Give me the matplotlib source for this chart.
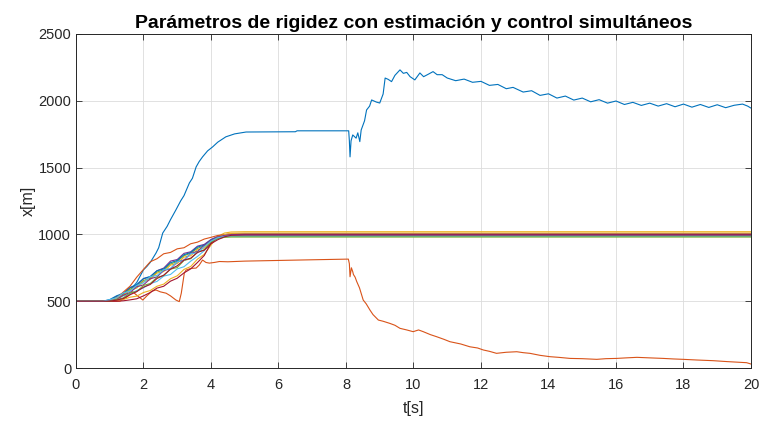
import numpy as np
import matplotlib
matplotlib.use("Agg")
import matplotlib.pyplot as plt

plt.rcParams['font.family'] = ['Liberation Sans', 'DejaVu Sans']

# MATLAB default colour order
C_BLUE = '#0072BD'
C_ORANGE = '#D95319'
C_YELLOW = '#EDB120'
C_PURPLE = '#7E2F8E'
C_GREEN = '#77AC30'
C_CYAN = '#4DBEEE'
C_DARKRED = '#A2142F'

# stiffness that grows, settles and then climbs again after 8 s
k1 = [(0, 500), (0.8, 500), (1.0, 505), (1.2, 520), (1.4, 545), (1.6, 580),
      (1.8, 640), (2.0, 735), (2.1, 760), (2.2, 790), (2.37, 860), (2.45, 900),
      (2.57, 1010), (2.7, 1060), (2.8, 1110), (2.96, 1183), (3.1, 1250),
      (3.2, 1290), (3.36, 1385), (3.45, 1420), (3.56, 1505), (3.65, 1545),
      (3.75, 1580), (3.9, 1625), (4.05, 1655), (4.2, 1690), (4.44, 1730),
      (4.7, 1752), (5.04, 1766), (6.5, 1768), (6.55, 1775), (8.08, 1775),
      (8.1, 1700), (8.12, 1580), (8.15, 1700), (8.2, 1744), (8.3, 1720),
      (8.35, 1760), (8.41, 1694), (8.45, 1781), (8.55, 1850), (8.61, 1931),
      (8.7, 1960), (8.76, 2006), (8.9, 1990), (9.0, 1983), (9.1, 2050),
      (9.16, 2170), (9.25, 2160), (9.35, 2143), (9.45, 2190), (9.6, 2231),
      (9.7, 2205), (9.8, 2212), (9.9, 2180), (10.04, 2156), (10.19, 2208),
      (10.3, 2180), (10.45, 2200), (10.58, 2218), (10.7, 2195), (10.85, 2195),
      (11.0, 2170), (11.25, 2150), (11.5, 2162), (11.75, 2138), (12.0, 2145),
      (12.25, 2115), (12.5, 2122), (12.75, 2090), (12.95, 2100), (13.25, 2065),
      (13.5, 2075), (13.75, 2040), (14.0, 2052), (14.25, 2020), (14.5, 2035),
      (14.75, 2005), (15.0, 2020), (15.25, 1992), (15.5, 2008), (15.75, 1982),
      (16.0, 1998), (16.25, 1972), (16.5, 1988), (16.75, 1965), (17.0, 1982),
      (17.25, 1960), (17.5, 1978), (17.75, 1955), (18.0, 1975), (18.25, 1952),
      (18.5, 1972), (18.75, 1950), (19.0, 1970), (19.25, 1948), (19.5, 1966),
      (19.75, 1975), (19.9, 1960), (20.0, 1945)]

# stiffness that stalls near 800 and collapses after 8 s
k2 = [(0, 500), (1.3, 500), (1.5, 530), (1.68, 571), (1.8, 545), (1.98, 509),
      (2.1, 540), (2.25, 575), (2.37, 584), (2.5, 570), (2.67, 560), (2.8, 540),
      (2.96, 509), (3.06, 497), (3.12, 560), (3.21, 711), (3.26, 733),
      (3.4, 745), (3.56, 748), (3.65, 770), (3.75, 808), (3.85, 790),
      (3.95, 785), (4.1, 790), (4.25, 797), (4.5, 795), (5.0, 800), (6.0, 805),
      (7.0, 810), (8.07, 815), (8.1, 780), (8.12, 683), (8.16, 750), (8.2, 721),
      (8.22, 700), (8.27, 680), (8.32, 646), (8.4, 600), (8.51, 509), (8.6, 480),
      (8.71, 434), (8.8, 400), (8.96, 359), (9.1, 350), (9.3, 334), (9.45, 320),
      (9.6, 297), (9.8, 285), (9.99, 272), (10.15, 285), (10.29, 272),
      (10.5, 250), (10.69, 234), (10.9, 215), (11.08, 197), (11.4, 180),
      (11.67, 159), (11.9, 150), (12.07, 135), (12.25, 125), (12.46, 110),
      (12.75, 118), (13.06, 122), (13.25, 115), (13.45, 110), (13.75, 95),
      (14.04, 85), (14.3, 80), (14.64, 72), (15.0, 70), (15.43, 65), (15.7, 70),
      (16.02, 72), (16.3, 76), (16.62, 80), (17.0, 76), (17.4, 72), (17.7, 68),
      (17.99, 65), (18.4, 60), (18.88, 55), (19.3, 48), (19.87, 40), (20.0, 30)]

# the remaining parameters, all sampled on the same time grid
t_bundle = [0, 0.8, 1.0, 1.2, 1.4, 1.6, 1.8, 2.0, 2.2, 2.4, 2.6, 2.8, 3.0,
            3.2, 3.4, 3.6, 3.8, 4.0, 4.2, 4.4, 4.6, 5.0, 20]
k3 = [500, 500, 500, 505, 512, 530, 538, 565, 580, 612, 628, 668, 690, 738, 760, 815, 850, 920, 985, 1010, 1018, 1020, 1020]
k4 = [500, 500, 508, 535, 552, 600, 618, 668, 682, 728, 748, 800, 812, 858, 870, 912, 925, 962, 985, 998, 1005, 1005, 1005]
k5 = [500, 500, 504, 528, 550, 590, 610, 655, 672, 718, 735, 778, 798, 840, 860, 895, 915, 955, 975, 983, 985, 985, 985]
k6 = [500, 500, 505, 516, 540, 555, 580, 600, 632, 648, 688, 700, 742, 758, 800, 835, 878, 940, 970, 982, 988, 990, 990]
k7 = [500, 500, 500, 500, 503, 510, 518, 540, 565, 598, 612, 650, 672, 712, 742, 790, 842, 935, 975, 990, 1000, 1000, 1000]
k8 = [500, 500, 512, 540, 560, 602, 625, 670, 685, 728, 742, 788, 805, 848, 865, 905, 920, 958, 980, 993, 1000, 1000, 1000]
k9 = [500, 500, 505, 522, 568, 612, 680, 738, 795, 818, 855, 865, 892, 900, 930, 942, 965, 978, 992, 998, 1000, 1000, 1000]
k10 = [500, 500, 505, 522, 545, 582, 598, 645, 662, 710, 722, 770, 782, 830, 840, 885, 898, 948, 980, 998, 1008, 1010, 1010]
k11 = [500, 500, 505, 512, 545, 565, 608, 622, 668, 682, 730, 742, 795, 808, 858, 872, 918, 955, 980, 992, 998, 1000, 1000]
k12 = [500, 500, 500, 512, 525, 562, 572, 618, 632, 678, 692, 740, 752, 805, 818, 868, 885, 945, 968, 978, 980, 980, 980]
k13 = [500, 500, 512, 525, 562, 575, 618, 638, 685, 692, 735, 745, 795, 805, 855, 862, 908, 950, 975, 985, 990, 990, 990]
k14 = [500, 500, 500, 508, 520, 548, 572, 605, 625, 670, 695, 740, 765, 808, 822, 865, 882, 930, 960, 982, 993, 995, 995]

bundle = [(k3, C_YELLOW), (k4, C_PURPLE), (k5, C_GREEN), (k6, C_CYAN),
          (k7, C_DARKRED), (k8, C_BLUE), (k9, C_ORANGE), (k10, C_YELLOW),
          (k11, C_PURPLE), (k12, C_GREEN), (k13, C_CYAN), (k14, C_DARKRED)]

fig = plt.figure(figsize=(7.66, 4.24), dpi=100)
ax = fig.add_axes([0.0992, 0.132, 0.8812, 0.788])

t1, v1 = np.array(k1).T
t2, v2 = np.array(k2).T
ax.plot(t1, v1, color=C_BLUE, lw=0.8)
ax.plot(t2, v2, color=C_ORANGE, lw=0.8)
for vals, col in bundle:
    ax.plot(t_bundle, vals, color=col, lw=0.8)

ax.set_xlim(0, 20)
ax.set_ylim(0, 2500)
ax.set_xticks(np.arange(0, 21, 2))
ax.set_yticks(np.arange(0, 2501, 500))
ax.grid(True, color='#dcdcdc', lw=0.6)
ax.set_axisbelow(True)
ax.tick_params(direction='in', length=4, width=0.6, colors='#262626',
               labelsize=10.5, top=True, right=True, labeltop=False, labelright=False)
ax.tick_params(axis='x', pad=7)
for s in ax.spines.values():
    s.set_color('#262626')
    s.set_linewidth(0.7)

ax.set_xlabel('t[s]', fontsize=11.5, color='#262626', labelpad=7)
ax.set_ylabel('x[m]', fontsize=11.5, color='#262626', labelpad=2)
ax.set_title('Parámetros de rigidez con estimación y control simultáneos',
             fontsize=14, fontweight='bold', color='black', pad=4)

fig.savefig('out.png', dpi=100)
